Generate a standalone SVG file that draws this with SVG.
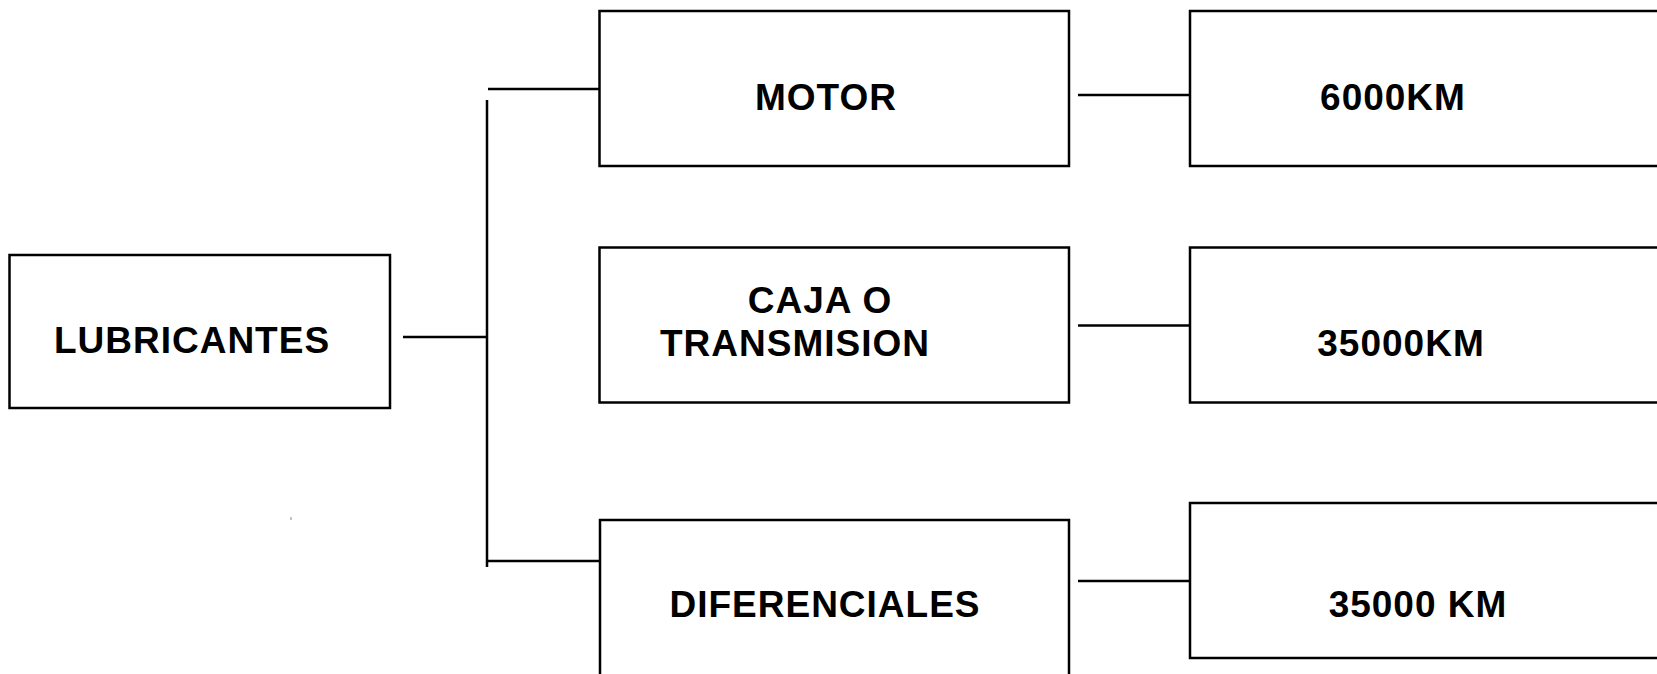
<svg xmlns="http://www.w3.org/2000/svg" width="1657" height="674" viewBox="0 0 1657 674">
<style>
.box{fill:#fff;stroke:#000;stroke-width:2.5}
.ln{stroke:#000;stroke-width:2.5;fill:none}
.t{font-family:"Liberation Sans",Arial,sans-serif;font-weight:bold;font-size:37px;letter-spacing:1px;text-anchor:middle;fill:#000}
</style>
<rect width="1657" height="674" fill="#fff"/>
<g id="connectors">
<line class="ln" x1="403" y1="337" x2="488" y2="337"/>
<line class="ln" x1="487" y1="100" x2="487" y2="567"/>
<line class="ln" x1="488" y1="89" x2="600" y2="89"/>
<line class="ln" x1="487" y1="561" x2="600" y2="561"/>
<line class="ln" x1="1078" y1="95" x2="1190" y2="95"/>
<line class="ln" x1="1078" y1="325.5" x2="1190" y2="325.5"/>
<line class="ln" x1="1078" y1="581" x2="1190" y2="581"/>
<line x1="291" y1="517" x2="291" y2="520" stroke="#888" stroke-width="1"/>
</g>
<g id="lubricantes">
<rect class="box" x="9.5" y="255" width="380.5" height="153"/>
<text class="t" x="192" y="353">LUBRICANTES</text>
</g>
<g id="motor">
<rect class="box" x="599.5" y="11" width="469.5" height="155"/>
<text class="t" x="826" y="110">MOTOR</text>
</g>
<g id="caja">
<rect class="box" x="599.5" y="247.5" width="469.5" height="155"/>
<text class="t" x="820" y="313">CAJA O</text>
<text class="t" x="795" y="356">TRANSMISION</text>
</g>
<g id="diferenciales">
<rect class="box" x="600" y="520" width="469" height="170"/>
<text class="t" x="825" y="617">DIFERENCIALES</text>
</g>
<g id="km6000">
<rect class="box" x="1190" y="11" width="480" height="155"/>
<text class="t" x="1393" y="110">6000KM</text>
</g>
<g id="km35000a">
<rect class="box" x="1190" y="247.5" width="480" height="155"/>
<text class="t" x="1401" y="356">35000KM</text>
</g>
<g id="km35000b">
<rect class="box" x="1190" y="503" width="480" height="155"/>
<text class="t" x="1418" y="617">35000 KM</text>
</g>
</svg>
